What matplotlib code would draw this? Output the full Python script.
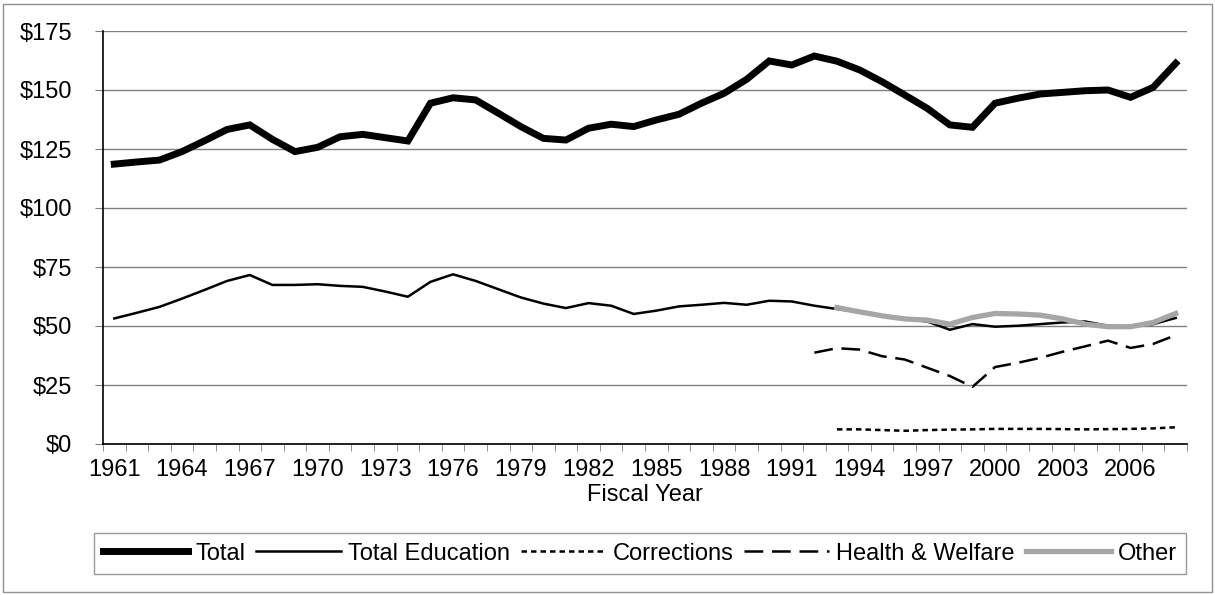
import numpy as np
import matplotlib.pyplot as plt
from matplotlib.patches import Rectangle

plt.rcParams['font.family'] = ['Liberation Sans', 'DejaVu Sans']

years = list(range(1961, 2009))
total = [118.6, 119.5, 120.3, 123.9, 128.5, 133.3, 135.2, 129.1, 123.9, 125.7,
         130.2, 131.2, 129.8, 128.4, 144.4, 146.7, 145.8, 140.2, 134.5, 129.5,
         128.8, 133.8, 135.5, 134.5, 137.3, 139.7, 144.4, 148.6, 154.5, 162.3,
         160.6, 164.4, 162.2, 158.5, 153.5, 147.9, 142.2, 135.2, 134.2, 144.4,
         146.5, 148.3, 149.0, 149.7, 150.0, 146.9, 151.1, 161.3]
education = [53.2, 55.6, 58.1, 61.6, 65.3, 69.1, 71.6, 67.4, 67.4, 67.7,
             67.0, 66.6, 64.6, 62.4, 68.7, 71.9, 69.1, 65.6, 62.1, 59.5,
             57.6, 59.7, 58.6, 55.1, 56.5, 58.3, 59.0, 59.8, 59.0, 60.7,
             60.4, 58.6, 57.2, 55.8, 54.3, 53.0, 51.9, 48.4, 50.8, 49.7,
             50.1, 50.8, 51.5, 51.9, 50.1, 49.7, 50.8, 53.4]
health_years = list(range(1992, 2009))
health = [38.7, 40.6, 40.0, 37.2, 35.8, 32.3, 28.8, 24.2, 32.6, 34.4,
          36.5, 39.1, 41.4, 43.8, 40.7, 42.4, 46.1]
late_years = list(range(1993, 2009))
corrections = [6.2, 6.2, 5.9, 5.6, 5.9, 6.1, 6.2, 6.4, 6.4, 6.4,
               6.3, 6.2, 6.3, 6.4, 6.6, 7.1]
other = [57.8, 56.0, 54.3, 53.0, 52.5, 50.8, 53.6, 55.3, 55.1, 54.6,
         53.0, 50.8, 49.7, 49.7, 51.5, 55.3]

FS = 17

fig = plt.figure(figsize=(12.15, 5.95), dpi=100)
ax = fig.add_axes([103 / 1215, 1 - 444 / 595, 1084 / 1215, 413 / 595])

ax.plot(years, total, color='black', lw=5, solid_joinstyle='miter', label='Total', zorder=5)
ax.plot(years, education, color='black', lw=1.8, label='Total Education', zorder=4)
ax.plot(late_years, corrections, color='black', lw=1.8, dashes=(2.2, 1.6), label='Corrections', zorder=4)
ax.plot(health_years, health, color='black', lw=1.8, dashes=(7.5, 3.5), label='Health & Welfare', zorder=4)
ax.plot(late_years, other, color='#a6a6a6', lw=3.8, label='Other', zorder=4)

ax.set_xlim(1960.5, 2008.5)
ax.set_ylim(0, 175)
ax.set_yticks(range(0, 176, 25))
ax.set_yticklabels([f'${v}' for v in range(0, 176, 25)])
ax.set_xticks(years[::3])
ax.set_xticks(np.arange(1960.5, 2009, 1), minor=True)
ax.tick_params(axis='x', which='major', length=0, pad=11, labelsize=FS)
ax.tick_params(axis='x', which='minor', length=5, color='#808080')
ax.tick_params(axis='y', length=6, pad=16, labelsize=FS, color='#808080')
ax.grid(axis='y', color='#808080', lw=1)
ax.set_axisbelow(True)
for s in ['top', 'right']:
    ax.spines[s].set_visible(False)
for s in ['left', 'bottom']:
    ax.spines[s].set_linewidth(1.2)
ax.set_xlabel('Fiscal Year', fontsize=FS, labelpad=2)

leg = fig.legend(loc='center', ncol=5, fontsize=FS,
                 bbox_to_anchor=(640 / 1215, 1 - 553.5 / 595),
                 handlelength=3.6, handletextpad=0.3, columnspacing=0.45,
                 borderpad=0.4, fancybox=False, frameon=True)
leg.get_frame().set_edgecolor('#808080')
leg.get_frame().set_linewidth(1)

fig.patches.append(Rectangle((3 / 1215, 3 / 595), 1209 / 1215, 588 / 595,
                             transform=fig.transFigure, fill=False,
                             edgecolor='#909090', lw=1))

fig.savefig('out.png', dpi=100)
